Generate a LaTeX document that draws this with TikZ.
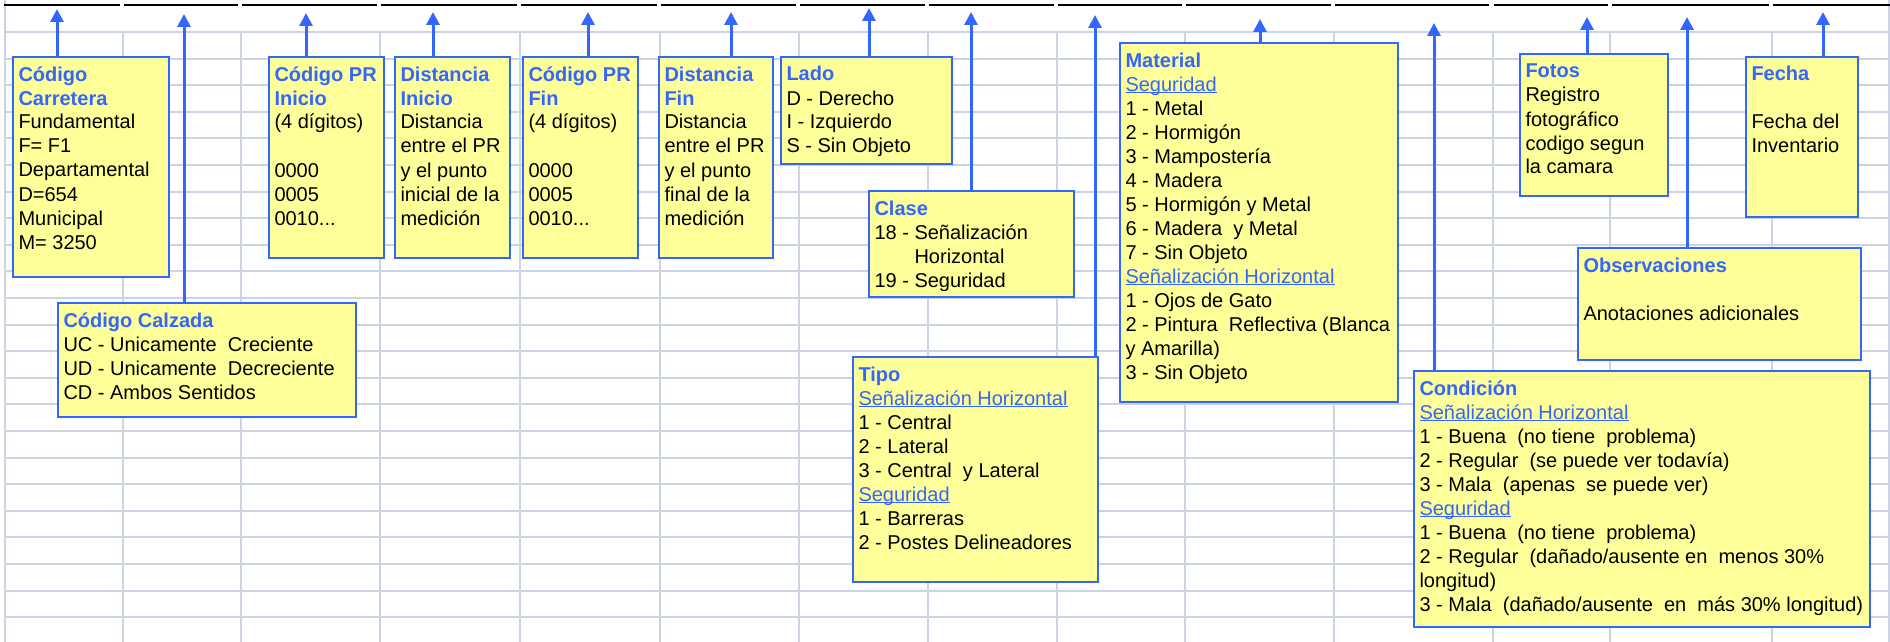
\documentclass[tikz,border=0pt]{standalone}
\usepackage{fontspec}
\setmainfont{Liberation Sans}
\usetikzlibrary{arrows.meta,fit}
\definecolor{bblue}{RGB}{51,102,255}
\definecolor{byel}{RGB}{255,255,153}
\definecolor{gridc}{RGB}{204,211,228}
\newsavebox\ulbox
\newcommand\uln[1]{\sbox\ulbox{#1}\rlap{\rule[-1.1pt]{\wd\ulbox}{0.65pt}}\usebox\ulbox}
\newcommand\tl[1]{\textcolor{bblue}{\textbf{#1}}}
\newcommand\sh[1]{\textcolor{bblue}{\uln{#1}}}
\newcommand\bx[6]{%
  \node[boxst, fit={(#2,#3) (#4,#5)}] (#1) {};
  \node[txt] (#1t) at ({#2+5.5},{#3+7.2}) {\strut #6};
}
\begin{document}
\begin{tikzpicture}[x=0.5pt,y=-0.5pt,
  boxst/.style={draw=bblue, fill=byel, line width=1.4pt, inner sep=0pt, outer sep=0pt, rectangle},
  txt/.style={anchor=north west, inner sep=0pt, outer sep=0pt, align=left, font=\fontsize{10}{12}\selectfont},
  arr/.style={draw=bblue, line width=1.5pt, -{Triangle[width=6.5pt,length=6.5pt]}},
  gridl/.style={draw=gridc, line width=1pt},
  hdr/.style={draw=black, line width=1pt}]
\useasboundingbox[fill=white] (0,0) rectangle (1890,642);
% grid
\foreach \k in {0,...,22} \draw[gridl] (5,{32+26.6*\k}) -- (1890,{32+26.6*\k});
\foreach \x in {123,241,380,520,660,799,928,1057,1185,1334,1493,1610,1772} \draw[gridl] (\x,32) -- (\x,642);
\draw[gridl] (5,0) -- (5,642);
\draw[gridl] (1889,0) -- (1889,642);
\foreach \a/\b in {4/120,124/238,242/377,381/517,521/657,661/796,800/925,929/1054,1058/1182,1186/1331,1335/1489,1494/1608,1612/1769,1773/1890}
  \draw[hdr] (\a,5) -- (\b,5);
% boxes
\bx{b1}{13}{57}{169}{277}{\tl{Código}\\ \tl{Carretera}\\ Fundamental\\ F= F1\\ Departamental\\ D=654\\ Municipal\\ M= 3250}
\bx{b2}{58}{303}{356}{417}{\tl{Código Calzada}\\ UC - Unicamente~ Creciente\\ UD - Unicamente~ Decreciente\\ CD - Ambos Sentidos}
\bx{b3}{269}{57}{384}{258}{\tl{Código PR}\\ \tl{Inicio}\\ (4 dígitos)\\ \strut\\ 0000\\ 0005\\ 0010...}
\bx{b4}{395}{57}{510}{258}{\tl{Distancia}\\ \tl{Inicio}\\ Distancia\\ entre el PR\\ y el punto\\ inicial de la\\ medición}
\bx{b5}{523}{57}{638}{258}{\tl{Código PR}\\ \tl{Fin}\\ (4 dígitos)\\ \strut\\ 0000\\ 0005\\ 0010...}
\bx{b6}{659}{57}{773}{258}{\tl{Distancia}\\ \tl{Fin}\\ Distancia\\ entre el PR\\ y el punto\\ final de la\\ medición}
\bx{b7}{781}{57}{952}{164}{\tl{Lado}\\ D - Derecho\\ I - Izquierdo\\ S - Sin Objeto}
\bx{b8}{869}{191}{1074}{297}{\tl{Clase}\\ 18 - Señalización\\ \phantom{18 - }Horizontal\\ 19 - Seguridad}
\bx{b9}{853}{357}{1098}{582}{\tl{Tipo}\\ \sh{Señalización Horizontal}\\ 1 - Central\\ 2 - Lateral\\ 3 - Central~ y Lateral\\ \sh{Seguridad}\\ 1 - Barreras\\ 2 - Postes Delineadores}
\bx{b10}{1120}{43}{1398}{402}{\tl{Material}\\ \sh{Seguridad}\\ 1 - Metal\\ 2 - Hormigón\\ 3 - Mampostería\\ 4 - Madera\\ 5 - Hormigón y Metal\\ 6 - Madera~ y Metal\\ 7 - Sin Objeto\\ \sh{Señalización Horizontal}\\ 1 - Ojos de Gato\\ 2 - Pintura~ Reflectiva (Blanca\\ y Amarilla)\\ 3 - Sin Objeto}
\bx{b11}{1414}{371}{1870}{627}{\tl{Condición}\\ \sh{Señalización Horizontal}\\ 1 - Buena~ (no tiene~ problema)\\ 2 - Regular~ (se puede ver todavía)\\ 3 - Mala~ (apenas~ se puede ver)\\ \sh{Seguridad}\\ 1 - Buena~ (no tiene~ problema)\\ 2 - Regular~ (dañado/ausente en~ menos 30\%\\ longitud)\\ 3 - Mala~ (dañado/ausente~ en~ más 30\% longitud)}
\bx{b12}{1520}{54}{1668}{196}{\tl{Fotos}\\ Registro\\ fotográfico\\ codigo segun\\ la camara}
\bx{b13}{1578}{248}{1861}{360}{\tl{Observaciones}\\ \strut\\ Anotaciones adicionales}
\bx{b14}{1746}{57}{1858}{217}{\tl{Fecha}\\ \strut\\ Fecha del\\ Inventario}
% arrows
\coordinate (t1) at (57,9);
\coordinate (t2) at (184,14);
\coordinate (t3) at (306,13);
\coordinate (t4) at (433,12);
\coordinate (t5) at (588,12);
\coordinate (t6) at (731,12);
\coordinate (t7) at (869,8);
\coordinate (t8) at (971,12);
\coordinate (t9) at (1095,15);
\coordinate (t10) at (1260,19);
\coordinate (t11) at (1434,23);
\coordinate (t12) at (1587,17);
\coordinate (t13) at (1687,17);
\coordinate (t14) at (1823,12);
\foreach \i in {1,...,14} \draw[arr] (t\i |- b\i.north) -- (t\i);
\end{tikzpicture}
\end{document}
